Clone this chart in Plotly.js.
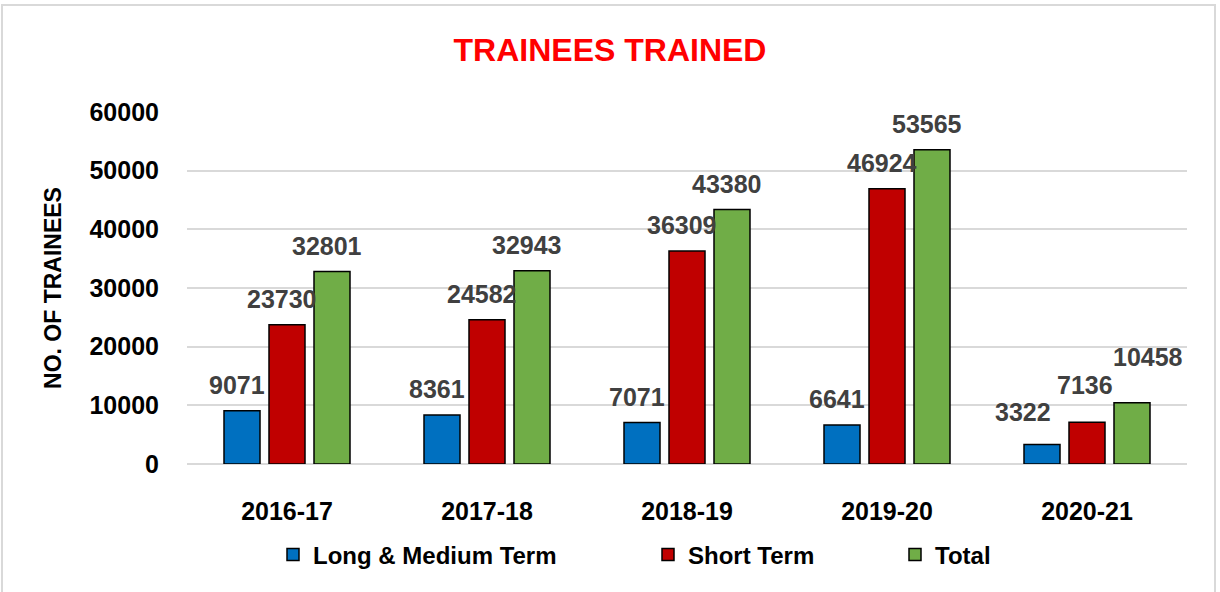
<!DOCTYPE html>
<html><head><meta charset="utf-8">
<script src="https://cdn.plot.ly/plotly-3.0.1.min.js"></script>
<style>body{margin:0;background:#fff}#c{width:1220px;height:592px;position:relative}
#b{position:absolute;left:1px;top:4px;width:1215px;height:600px;border:2px solid #d9d9d9;pointer-events:none;box-sizing:border-box}</style>
</head><body><div id="c"></div><div id="b"></div>
<script>
const categories = ['2016-17','2017-18','2018-19','2019-20','2020-21'];
const longMedium = [9071, 8361, 7071, 6641, 3322];
const shortTerm = [23730, 24582, 36309, 46924, 7136];
const total = [32801, 32943, 43380, 53565, 10458];
const seriesNames = ['Long & Medium Term', 'Short Term', 'Total'];
const colors = ['#0070C0', '#C00000', '#70AD47'];
const series = [longMedium, shortTerm, total];
const legendIds = ['legend', 'legend2', 'legend3'];
const legendX = [0.086, 0.461, 0.708];
// label nudges in px [dx, dy] per series, for the crowded last group (style only)
const labelNudge = {'2020-21': [[-14, 7], [3, 11], [21, 20]]};

const traces = series.map((v, i) => ({
  type: 'bar', x: categories, y: v, name: seriesNames[i], legend: legendIds[i],
  marker: {color: colors[i], line: {color: '#000', width: 1.5}},
  hoverinfo: 'x+y'
}));
const annotations = [];
series.forEach((v, i) => v.forEach((val, j) => {
  const n = labelNudge[categories[j]] ? labelNudge[categories[j]][i] : [0, 0];
  annotations.push({
    x: categories[j], y: val, xref: 'x', yref: 'y', text: '<b>' + val + '</b>', showarrow: false,
    xshift: (i - 1) * 45 - 5 + n[0], yanchor: 'bottom', yshift: 10 + n[1],
    font: {family: 'Liberation Sans, Arial', size: 25, color: '#404040'}
  });
}));

const legendFont = {family: 'Liberation Sans, Arial', size: 24, color: '#000', weight: 'bold'};
const layout = {
  width: 1220, height: 592,
  margin: {l: 187, r: 33, t: 112, b: 128},
  paper_bgcolor: '#fff', plot_bgcolor: '#fff',
  title: {text: '<b>TRAINEES TRAINED</b>', x: 0.5, xanchor: 'center', y: 0.9155, yanchor: 'middle',
    font: {family: 'Liberation Sans, Arial', size: 32, color: '#FF0000'}},
  barmode: 'group', bargap: 0.325, bargroupgap: 0.2,
  xaxis: {tickfont: {family: 'Liberation Sans, Arial', size: 25, color: '#000', weight: 'bold'},
    ticklabelstandoff: 30, showline: false, zeroline: false},
  yaxis: {range: [0, 60000], dtick: 10000, tickformat: 'd', gridcolor: '#d9d9d9', gridwidth: 2, zeroline: true,
    zerolinecolor: '#d9d9d9', zerolinewidth: 2,
    tickfont: {family: 'Liberation Sans, Arial', size: 25, color: '#000', weight: 'bold'},
    ticklabelstandoff: 27,
    title: {text: '<b>NO. OF TRAINEES</b>', standoff: 21,
      font: {family: 'Liberation Sans, Arial', size: 23, color: '#000'}}},
  annotations: annotations,
  showlegend: true
};
legendIds.forEach((id, i) => {
  layout[id] = {orientation: 'h', x: legendX[i], xanchor: 'left', y: -0.2585, yanchor: 'middle',
    font: legendFont, itemwidth: 30, bgcolor: 'rgba(0,0,0,0)'};
});
Plotly.newPlot('c', traces, layout, {displayModeBar: false});
</script></body></html>
